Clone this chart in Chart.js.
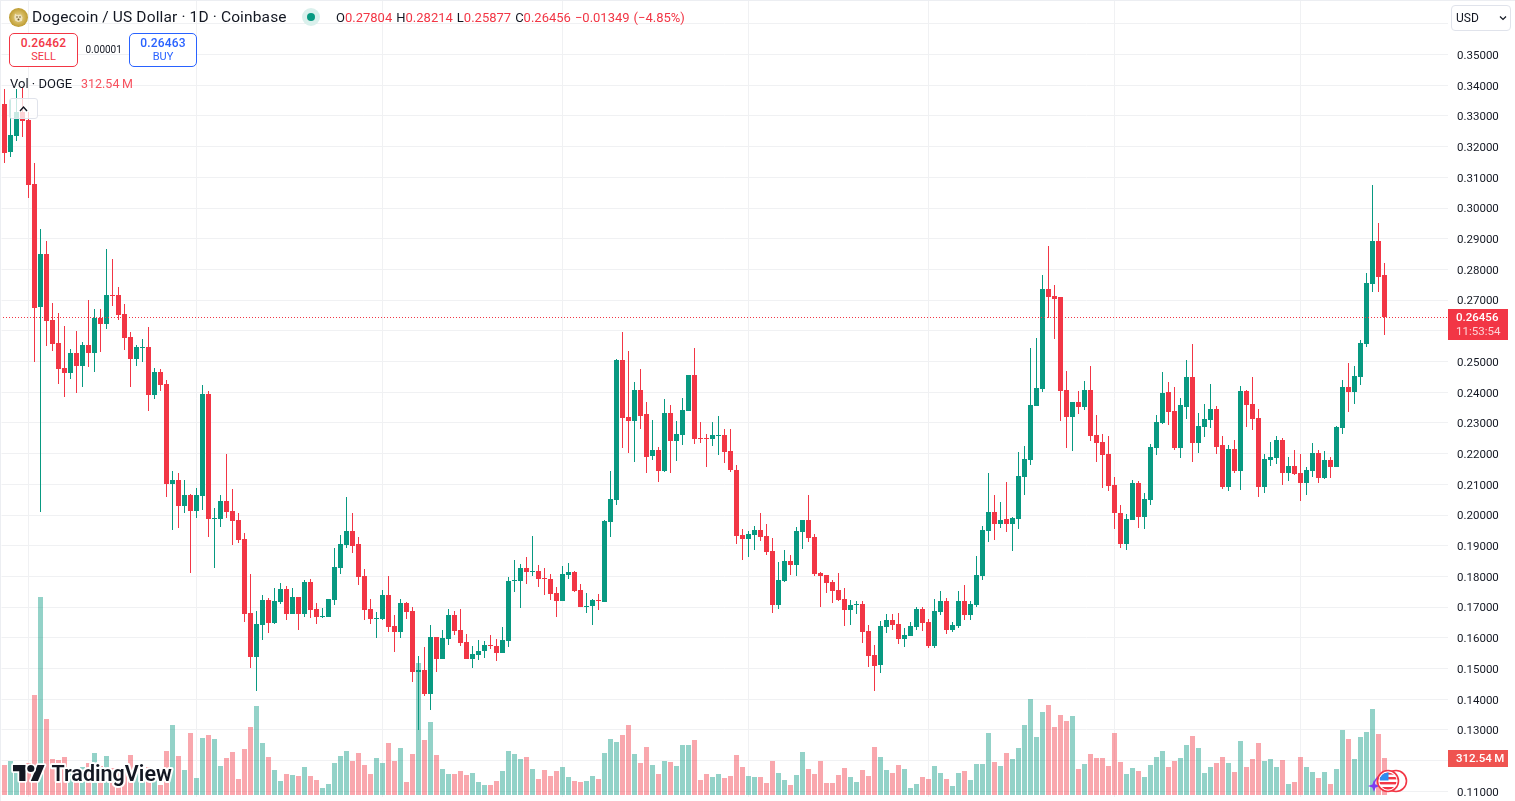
<!DOCTYPE html>
<html lang="en">
<head>
<meta charset="utf-8">
<title>DOGE / USD daily</title>
<script src="https://cdn.jsdelivr.net/npm/chart.js@4/dist/chart.umd.min.js"></script>
<style>
  html, body { margin: 0; padding: 0; background: #fff; overflow: hidden; }
  #stage { position: relative; width: 1515px; height: 801px; font-family: Roboto, sans-serif; color: #131722; }
  canvas { position: absolute; left: 0; top: 0; }
  .abs { position: absolute; white-space: pre; }
  .trade { position: absolute; top: 33px; height: 32px; border: 1px solid; border-radius: 5px; background: #fff; text-align: center; }
  .trade b { display: block; font-size: 12px; font-weight: 500; line-height: 14px; margin-top: 2px; letter-spacing: .2px; }
  .trade span { display: block; font-size: 11px; line-height: 14px; }
  #frame { position: absolute; left: 0; top: 0; width: 1514px; height: 800px; border-top: 1px solid #eceef2; border-left: 1px solid #eceef2; pointer-events: none; }
</style>
</head>
<body>
<div id="stage">
  <canvas id="chart" width="1515" height="801"></canvas>
  <div id="frame"></div>

  <svg class="abs" style="left:9px;top:8px" width="19" height="19" viewBox="0 0 19 19">
    <defs><radialGradient id="coin" cx="50%" cy="50%" r="50%"><stop offset="0" stop-color="#e8d9a0"/><stop offset="0.6" stop-color="#d2b558"/><stop offset="1" stop-color="#bd9c32"/></radialGradient></defs>
    <circle cx="9.5" cy="9.5" r="9.5" fill="url(#coin)"/>
    <path d="M6 5.5 L8 7 L12 6.5 L13.5 9.5 L13 13 L9 14 L6 12.5 L5.3 9 Z" fill="#efe3bd"/>
    <circle cx="8" cy="9" r=".8" fill="#6b5a2a"/><circle cx="11" cy="9" r=".8" fill="#6b5a2a"/><circle cx="9.5" cy="11.5" r="1" fill="#6b5a2a"/>
  </svg>
  <div class="abs" id="title" style="left:32px;top:8px;font-size:15.5px;line-height:19px;letter-spacing:.14px"></div>

  <svg class="abs" style="left:302px;top:8px" width="18" height="18"><circle cx="9" cy="9" r="9" fill="#daf0ec"/><circle cx="9" cy="9" r="4" fill="#089981"/></svg>
  <div class="abs" id="ohlc" style="left:336px;top:9.5px;font-size:13px;line-height:16px;color:#f23645;word-spacing:.8px"></div>

  <div class="trade" style="left:9px;width:67px;border-color:#f23645;color:#f23645"><b id="sellPrice"></b><span>SELL</span></div>
  <div class="abs" id="spread" style="left:85.5px;top:44px;font-size:10px;line-height:12px"></div>
  <div class="trade" style="left:129px;width:66px;border-color:#2962ff;color:#2962ff"><b id="buyPrice"></b><span>BUY</span></div>

  <div class="abs" id="volName" style="left:10px;top:76px;font-size:13px;line-height:16px"></div>
  <div class="abs" id="volValue" style="left:81px;top:76px;font-size:12.5px;line-height:16px;color:#f7525f"></div>

  <div class="abs" style="left:9px;top:98px;width:27px;height:19px;border:1px solid #e0e3eb;border-radius:3px;background:rgba(255,255,255,.78)"><svg class="abs" style="left:0;top:0" width="27" height="19"><path d="M10 12 L13.5 8 L17 12" fill="none" stroke="#131722" stroke-width="1.4"/></svg></div>

  <div class="abs" style="left:1451px;top:5px;width:58px;height:24px;border:1px solid #e0e3eb;border-radius:4px;background:#fff">
    <span class="abs" id="currency" style="left:4px;top:4px;font-size:12px;line-height:16px"></span>
    <svg class="abs" style="left:47px;top:9px" width="9" height="7"><path d="M1 1.5 L4 4.5 L7 1.5" fill="none" stroke="#131722" stroke-width="1.2"/></svg>
  </div>

  <svg class="abs" style="left:8px;top:760px" width="170" height="30">
    <g stroke="#fff" stroke-width="4" stroke-linejoin="round" paint-order="stroke" fill="#131722">
      <g transform="translate(5 1.4) scale(.89)">
        <path d="M14 22H7V11H0V4h14v18zM28 22h-8l7.5-18h8L28 22z"/><circle cx="20" cy="8" r="4"/>
      </g>
      <text id="brand" x="43.5" y="20.5" font-family="Roboto, sans-serif" font-size="21.5" font-weight="600"></text>
    </g>
  </svg>

  <svg class="abs" style="left:1366px;top:768px" width="44" height="30" viewBox="0 0 44 30">
    <path d="M8 18 A12 12 0 0 1 20 6" fill="none" stroke="#8c3fe8" stroke-width="1.6"/>
    <path d="M8 12 L9.6 16.4 L14 18 L9.6 19.6 L8 24 L6.4 19.6 L2 18 L6.4 16.4 Z" fill="#7c3cf0"/>
    <circle cx="30" cy="13" r="10.5" fill="#fff" stroke="#f23645" stroke-width="1.6"/>
    <circle cx="22" cy="13" r="10.5" fill="#fff" stroke="#f23645" stroke-width="1.6"/>
    <clipPath id="flag"><circle cx="22" cy="13" r="8.6"/></clipPath>
    <g clip-path="url(#flag)">
      <rect x="13" y="4" width="18" height="18" fill="#fff"/>
      <rect x="13" y="4" width="18" height="2.6" fill="#f23645"/><rect x="13" y="9" width="18" height="2.4" fill="#f23645"/>
      <rect x="13" y="14" width="18" height="2.4" fill="#f23645"/><rect x="13" y="19" width="18" height="3" fill="#f23645"/>
      <rect x="14" y="4" width="8.5" height="8.5" fill="#2f8cf0"/>
    </g>
  </svg>
</div>

<script>
// Daily DOGE/USD prices, one entry per session, oldest first.
const opens = [
  .3339,.3183,.3236,.3313,.3287,.3078,.2679,.2850,.2635,.2560,
  .2479,.2464,.2528,.2486,.2554,.2529,.2642,.2623,.2717,.2717,
  .2655,.2580,.2509,.2545,.2547,.2392,.2466,.2427,.2101,.2114,
  .2029,.2065,.2013,.2062,.2394,.1987,.1987,.2046,.2013,.1984,
  .1922,.1681,.1537,.1642,.1723,.1648,.1717,.1759,.1678,.1733,
  .1678,.1782,.1694,.1668,.1668,.1723,.1827,.1902,.1948,.1906,
  .1801,.1694,.1661,.1661,.1739,.1638,.1619,.1713,.1687,.1489,
  .1495,.1417,.1603,.1531,.1596,.1674,.1625,.1586,.1531,.1544,
  .1557,.1576,.1573,.1551,.1589,.1785,.1785,.1827,.1814,.1817,
  .1795,.1792,.1746,.1720,.1805,.1814,.1756,.1700,.1704,.1723,
  .1717,.1977,.2049,.2505,.2319,.2306,.2407,.2329,.2192,.2212,
  .2143,.2332,.2241,.2261,.2339,.2456,.2251,.2251,.2248,.2257,
  .2261,.2208,.2147,.1935,.1922,.1935,.1951,.1932,.1883,.1707,
  .1785,.1850,.1837,.1945,.1984,.1928,.1811,.1805,.1782,.1756,
  .1726,.1691,.1707,.1710,.1622,.1544,.1511,.1635,.1658,.1645,
  .1596,.1606,.1635,.1694,.1651,.1573,.1684,.1720,.1625,.1638,
  .1720,.1674,.1707,.1801,.1948,.2010,.1971,.1987,.1971,.1987,
  .2124,.2179,.2355,.2410,.2736,.2713,.2710,.2407,.2319,.2368,
  .2352,.2407,.2261,.2238,.2199,.2098,.2007,.1906,.1984,.2104,
  .1993,.2049,.2218,.2300,.2401,.2339,.2218,.2352,.2450,.2235,
  .2287,.2309,.2345,.2228,.2091,.2215,.2143,.2404,.2362,.2316,
  .2091,.2179,.2186,.2244,.2137,.2160,.2137,.2104,.2143,.2202,
  .2121,.2179,.2156,.2283,.2417,.2401,.2450,.2557,.2752,.2893,
  .27804
];
const highs = [
  .3388,.3352,.3388,.3391,.3313,.3147,.2932,.2893,.2692,.2659,
  .2617,.2541,.2600,.2564,.2700,.2671,.2671,.2867,.2834,.2743,
  .2687,.2596,.2554,.2573,.2612,.2479,.2476,.2440,.2143,.2137,
  .2114,.2068,.2088,.2423,.2404,.2023,.2065,.2199,.2085,.2007,
  .1941,.1808,.1687,.1739,.1730,.1762,.1778,.1769,.1762,.1733,
  .1788,.1792,.1713,.1697,.1726,.1892,.1935,.2059,.2007,.1928,
  .1824,.1726,.1684,.1756,.1801,.1674,.1726,.1717,.1700,.1541,
  .1570,.1642,.1603,.1625,.1694,.1687,.1694,.1612,.1573,.1593,
  .1589,.1609,.1596,.1635,.1798,.1853,.1840,.1863,.1931,.1837,
  .1827,.1808,.1765,.1834,.1844,.1817,.1775,.1746,.1726,.1743,
  .1984,.2143,.2508,.2596,.2534,.2433,.2476,.2368,.2309,.2221,
  .2378,.2358,.2306,.2381,.2456,.2544,.2303,.2264,.2303,.2322,
  .2280,.2280,.2163,.1954,.1948,.1964,.2007,.1971,.1925,.1847,
  .1886,.1870,.1961,.1984,.2065,.1938,.1814,.1805,.1788,.1811,
  .1762,.1723,.1720,.1720,.1642,.1576,.1655,.1678,.1678,.1681,
  .1632,.1651,.1700,.1700,.1661,.1726,.1752,.1730,.1651,.1752,
  .1772,.1720,.1866,.1964,.2137,.2065,.2042,.2107,.1993,.2205,
  .2225,.2544,.2577,.2782,.2876,.2749,.2710,.2469,.2368,.2404,
  .2436,.2485,.2326,.2264,.2257,.2124,.2033,.2003,.2114,.2111,
  .2072,.2231,.2326,.2466,.2433,.2417,.2381,.2505,.2557,.2332,
  .2362,.2427,.2355,.2257,.2228,.2244,.2420,.2407,.2450,.2345,
  .2199,.2238,.2257,.2251,.2189,.2212,.2199,.2156,.2235,.2212,
  .2208,.2189,.2290,.2440,.2495,.2485,.2570,.2788,.3075,.2951,
  .28214
];
const lows = [
  .3148,.3167,.3219,.3232,.3034,.2499,.2011,.2551,.2535,.2427,
  .2385,.2444,.2398,.2418,.2483,.2467,.2532,.2607,.2682,.2635,
  .2537,.2418,.2486,.2499,.2340,.2379,.2405,.2060,.1951,.1958,
  .2007,.1811,.1990,.2016,.1928,.1827,.1961,.1990,.1902,.1909,
  .1651,.1502,.1427,.1593,.1616,.1645,.1710,.1658,.1678,.1626,
  .1668,.1665,.1645,.1665,.1668,.1707,.1808,.1892,.1876,.1772,
  .1658,.1645,.1599,.1658,.1619,.1554,.1599,.1661,.1456,.1300,
  .1411,.1365,.1489,.1531,.1576,.1609,.1573,.1531,.1502,.1528,
  .1534,.1564,.1525,.1551,.1570,.1749,.1697,.1775,.1801,.1765,
  .1739,.1723,.1668,.1720,.1792,.1749,.1700,.1681,.1642,.1691,
  .1717,.1928,.2033,.2218,.2202,.2173,.2280,.2137,.2179,.2107,
  .2140,.2137,.2176,.2228,.2339,.2231,.2235,.2156,.2225,.2195,
  .2169,.2140,.1906,.1853,.1863,.1886,.1915,.1870,.1681,.1694,
  .1782,.1805,.1801,.1889,.1912,.1801,.1700,.1746,.1713,.1720,
  .1638,.1642,.1678,.1583,.1505,.1427,.1485,.1616,.1625,.1580,
  .1570,.1606,.1625,.1622,.1567,.1567,.1674,.1612,.1619,.1632,
  .1658,.1658,.1700,.1788,.1912,.1919,.1958,.1945,.1883,.1954,
  .2065,.2163,.2355,.2401,.2642,.2573,.2306,.2218,.2208,.2329,
  .2342,.2241,.2173,.2088,.2078,.1954,.1892,.1886,.1984,.1958,
  .1954,.2033,.2195,.2296,.2293,.2212,.2186,.2313,.2173,.2202,
  .2254,.2283,.2199,.2085,.2078,.2137,.2081,.2287,.2277,.2059,
  .2072,.2160,.2166,.2098,.2111,.2130,.2046,.2065,.2124,.2104,
  .2117,.2121,.2156,.2264,.2336,.2362,.2423,.2547,.2726,.2726,
  .25877
];
const closes = [
  .3180,.3238,.3313,.3284,.3076,.2675,.2850,.2633,.2558,.2477,
  .2464,.2528,.2486,.2554,.2529,.2642,.2623,.2717,.2714,.2652,
  .2578,.2509,.2547,.2547,.2392,.2466,.2424,.2101,.2114,.2029,
  .2065,.2013,.2065,.2394,.1987,.1990,.2046,.2010,.1980,.1919,
  .1678,.1537,.1645,.1723,.1648,.1720,.1759,.1678,.1733,.1678,
  .1782,.1691,.1668,.1671,.1726,.1831,.1906,.1948,.1899,.1798,
  .1691,.1661,.1665,.1739,.1635,.1619,.1713,.1684,.1489,.1495,
  .1417,.1603,.1531,.1599,.1674,.1622,.1583,.1531,.1547,.1557,
  .1576,.1573,.1551,.1593,.1785,.1788,.1827,.1814,.1817,.1792,
  .1792,.1743,.1720,.1808,.1814,.1752,.1700,.1704,.1723,.1720,
  .1980,.2052,.2505,.2316,.2306,.2407,.2322,.2189,.2212,.2143,
  .2332,.2241,.2264,.2342,.2456,.2248,.2248,.2248,.2261,.2261,
  .2205,.2147,.1932,.1922,.1938,.1951,.1928,.1879,.1707,.1788,
  .1850,.1837,.1948,.1984,.1925,.1808,.1801,.1778,.1752,.1723,
  .1691,.1707,.1710,.1619,.1541,.1508,.1638,.1658,.1642,.1596,
  .1609,.1638,.1694,.1648,.1573,.1687,.1720,.1625,.1642,.1720,
  .1674,.1710,.1805,.1951,.2010,.1971,.1984,.1971,.1990,.2127,
  .2182,.2358,.2414,.2736,.2710,.2704,.2404,.2319,.2368,.2352,
  .2407,.2257,.2235,.2195,.2094,.2007,.1906,.1987,.2104,.1993,
  .2052,.2221,.2303,.2397,.2336,.2218,.2358,.2450,.2235,.2290,
  .2313,.2345,.2221,.2091,.2215,.2143,.2404,.2358,.2313,.2091,
  .2182,.2189,.2244,.2137,.2160,.2134,.2104,.2147,.2202,.2121,
  .2179,.2156,.2287,.2417,.2401,.2453,.2560,.2756,.2893,.2775,
  .26456
];
// Session volume in millions of DOGE.
const volumes = [
  253,287,239,253,268,845,1673,642,304,296,
  321,211,211,237,270,355,245,329,225,197,
  239,338,211,183,237,197,84,372,591,329,
  211,524,144,482,507,473,245,313,363,135,
  389,574,752,439,321,211,118,177,169,161,
  237,161,127,59,93,270,329,372,287,355,
  253,177,313,270,439,287,397,110,346,1115,
  465,617,338,220,177,177,203,169,186,110,
  84,84,118,203,372,346,304,321,220,135,
  211,161,203,237,152,118,110,118,161,135,
  355,473,448,507,591,346,270,406,253,177,
  287,279,245,422,422,465,127,177,152,177,
  144,161,338,237,161,152,152,101,287,186,
  127,84,169,363,220,177,287,101,101,169,
  228,152,110,211,161,406,321,211,186,253,
  220,59,93,152,135,245,186,135,76,186,
  203,127,262,262,524,279,245,355,304,397,
  591,811,490,701,760,574,676,625,667,220,
  262,346,313,313,245,524,279,177,228,203,
  152,253,321,372,237,287,313,422,498,397,
  186,237,270,321,270,194,456,237,304,439,
  287,304,237,296,93,110,321,237,194,144,
  194,93,220,549,473,304,490,532,727,515,
  312.54
];

// Header read-outs.
const titleText = 'Dogecoin / US Dollar · 1D · Coinbase';
const lastOpen = '0.27804', lastHigh = '0.28214', lastLow = '0.25877', lastClose = '0.26456';
const lastChange = '−0.01349 (−4.85%)';
const sellQuote = '0.26462', buyQuote = '0.26463', quoteSpread = '0.00001';
const countdown = '11:53:54';
const volumeLabel = '312.54\u2009M';

// Daily categories; the last few sessions are left empty as room on the right.
const emptySessions = 10;
const firstDay = Date.UTC(2025, 0, 28);
const dates = Array.from({ length: closes.length + emptySessions }, (_, i) =>
  new Date(firstDay + i * 86400000).toISOString().slice(0, 10));

const upColor = '#089981', downColor = '#f23645';
const upVolume = 'rgba(8,153,129,.44)', downVolume = 'rgba(242,54,69,.44)';
const gridColor = '#f0f1f3';
const isUp = closes.map((c, i) => c >= opens[i]);

// Paint the static header into its placeholders.
document.getElementById('title').textContent = titleText;
document.getElementById('ohlc').innerHTML =
  `<span style="color:#131722">O</span>${lastOpen} <span style="color:#131722">H</span>${lastHigh} ` +
  `<span style="color:#131722">L</span>${lastLow} <span style="color:#131722">C</span>${lastClose} ${lastChange}`;
document.getElementById('sellPrice').textContent = sellQuote;
document.getElementById('buyPrice').textContent = buyQuote;
document.getElementById('spread').textContent = quoteSpread;
document.getElementById('volName').textContent = 'Vol · DOGE';
document.getElementById('volValue').textContent = volumeLabel;
document.getElementById('currency').textContent = 'USD';
document.getElementById('brand').textContent = 'TradingView';

// Snaps bar edges to whole pixels so candles stay crisp, then draws the
// last-price line and the tags that sit on the price axis.
const chartDecor = {
  id: 'chartDecor',
  beforeDatasetDraw(chart, args) {
    chart.getDatasetMeta(args.index).data.forEach(bar => {
      if (bar.base === undefined) return;
      const top = Math.round(bar.y);
      let base = Math.round(bar.base);
      if (base === top) base = top + 1;
      bar.y = top;
      bar.base = base;
    });
  },
  afterDraw(chart) {
    const { ctx, chartArea, scales } = chart;
    const price = closes[closes.length - 1];
    const py = Math.round(scales.y.getPixelForValue(price));
    ctx.save();
    ctx.strokeStyle = downColor;
    ctx.lineWidth = 1;
    ctx.setLineDash([1, 2]);
    ctx.beginPath();
    ctx.moveTo(0, py + .5);
    ctx.lineTo(chartArea.right, py + .5);
    ctx.stroke();
    ctx.setLineDash([]);

    ctx.textBaseline = 'middle';
    ctx.textAlign = 'left';
    ctx.fillStyle = downColor;
    ctx.fillRect(1448, py - 8, 60, 31);
    ctx.font = '500 11.5px Roboto, sans-serif';
    ctx.fillStyle = '#fff';
    ctx.fillText(lastClose, 1456, py + 1.5);
    ctx.font = '11.5px Roboto, sans-serif';
    ctx.fillStyle = 'rgba(255,255,255,.78)';
    ctx.fillText(countdown, 1456, py + 15.5);

    const vy = Math.round(scales.yVol.getPixelForValue(volumes[volumes.length - 1]));
    ctx.fillStyle = '#ef5350';
    ctx.fillRect(1448, vy - 8, 60, 17);
    ctx.font = '500 11.5px Roboto, sans-serif';
    ctx.fillStyle = '#fff';
    ctx.fillText(volumeLabel, 1456, vy + 1.5);
    ctx.restore();
  }
};

new Chart(document.getElementById('chart'), {
  type: 'bar',
  data: {
    labels: dates,
    datasets: [
      { // volume histogram, behind the candles
        yAxisID: 'yVol', order: 3, data: volumes,
        backgroundColor: isUp.map(u => u ? upVolume : downVolume),
        barThickness: 5
      },
      { // candle wicks
        yAxisID: 'y', order: 2, data: lows.map((l, i) => [l, highs[i]]),
        backgroundColor: isUp.map(u => u ? upColor : downColor),
        barThickness: 1
      },
      { // candle bodies
        yAxisID: 'y', order: 1, data: opens.map((o, i) => [o, closes[i]]),
        backgroundColor: isUp.map(u => u ? upColor : downColor),
        barThickness: 5
      }
    ]
  },
  plugins: [chartDecor],
  options: {
    responsive: false,
    animation: false,
    events: [],
    layout: { padding: { left: 1.5, right: 0, top: 0, bottom: 4 } },
    datasets: { bar: { grouped: false, inflateAmount: 0, borderWidth: 0, borderSkipped: false } },
    plugins: { legend: { display: false }, tooltip: { enabled: false } },
    scales: {
      x: {
        offset: true,
        ticks: { display: false, autoSkip: false },
        border: { display: false },
        grid: {
          offset: false,
          drawTicks: false,
          color: ctx => (dates[ctx.index] || '').endsWith('-01') ? gridColor : 'rgba(0,0,0,0)'
        }
      },
      y: {
        position: 'right',
        min: .2 - 282 / 3070,
        max: .2 + 515 / 3070,
        afterFit: scale => { scale.width = 67.5; scale.paddingTop = 0; scale.paddingBottom = 0; },
        border: { display: false },
        grid: { color: gridColor, drawTicks: false },
        ticks: {
          stepSize: .01,
          includeBounds: false,
          padding: 9.5,
          color: '#131722',
          // a blank first line and a tight line height nudge Roboto down onto its gridline
          font: { family: 'Roboto, sans-serif', size: 11.5, lineHeight: '3px' },
          callback: v => ['', Number(v).toFixed(5)]
        }
      },
      yVol: {
        display: false,
        min: -2 * 8.447,
        max: 795 * 8.447
      }
    }
  }
});
</script>
</body>
</html>
